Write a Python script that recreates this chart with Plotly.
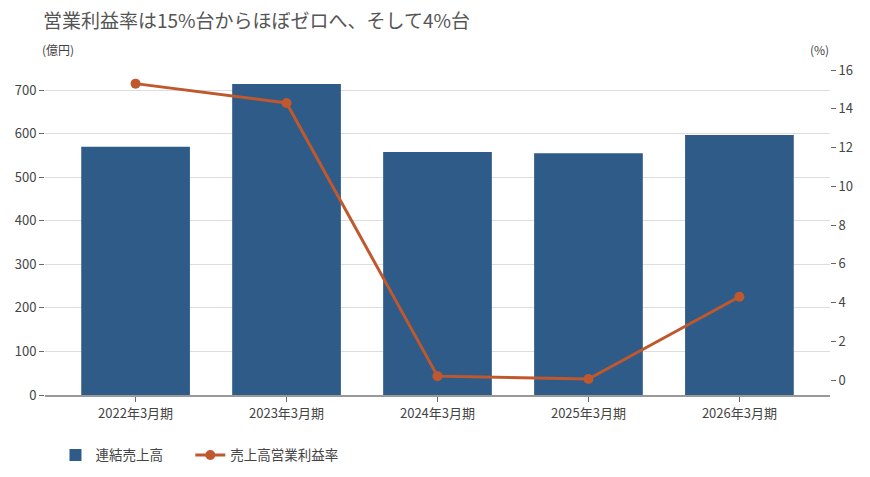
import plotly.graph_objects as go

# data
periods = ["2022年3月期", "2023年3月期", "2024年3月期", "2025年3月期", "2026年3月期"]
sales = [570, 714, 558, 555, 597]            # 連結売上高 (億円)
op_margin = [15.3, 14.3, 0.2, 0.05, 4.3]     # 売上高営業利益率 (%)

left_ticks = [0, 100, 200, 300, 400, 500, 600, 700]
right_ticks = [0, 2, 4, 6, 8, 10, 12, 14, 16]

font_jp = "Noto Sans CJK JP"
bar_color = "#2e5b88"
line_color = "#c0582e"
text_color = "#444444"

fig = go.Figure()

fig.add_trace(go.Bar(
    x=periods, y=sales, name="連結売上高",
    marker=dict(color=bar_color, line=dict(width=0)),
    width=0.72, legend="legend",
))

fig.add_trace(go.Scatter(
    x=periods, y=op_margin, name="売上高営業利益率",
    mode="lines+markers", yaxis="y2",
    line=dict(color=line_color, width=3),
    marker=dict(color=line_color, size=10),
    legend="legend2",
))

# legends placed on the container so they don't push the plot margins
legend_style = dict(orientation="h", xref="container", yref="container", y=0.03,
                    xanchor="left", yanchor="middle",
                    font=dict(size=13.5, color=text_color), bgcolor="rgba(0,0,0,0)")

# the page body keeps an 8px margin, so the figure is sized to fit inside it
fig.update_layout(
    width=854, height=461,
    margin=dict(l=37, r=32, t=52, b=74),
    paper_bgcolor="white", plot_bgcolor="white",
    font=dict(family=font_jp, size=13, color=text_color),
    title=dict(text="営業利益率は15%台からほぼゼロへ、そして4%台",
               x=0.041, xref="container", xanchor="left", y=0.97, yref="container",
               yanchor="middle", font=dict(size=19, color="#555555")),
    xaxis=dict(range=[-0.6, 4.6], showline=True, linecolor="#999999", linewidth=2,
               ticks="outside", ticklen=5, tickcolor="#666666", tickfont=dict(size=13),
               automargin=False),
    yaxis=dict(range=[0, 769], tickvals=left_ticks, showgrid=True, gridcolor="#dddddd",
               zeroline=False, ticks="outside", ticklen=5, tickcolor="#666666",
               tickfont=dict(size=13), automargin=False),
    yaxis2=dict(range=[-0.774, 16.52], tickvals=right_ticks, overlaying="y", side="right",
                showgrid=False, zeroline=False, ticks="outside", ticklen=5,
                tickcolor="#666666", tickfont=dict(size=13), automargin=False),
    legend=dict(x=0.0556, **legend_style),
    legend2=dict(x=0.2135, **legend_style),
    bargap=0.28,
    showlegend=True,
)

fig.add_annotation(text="(億円)", xref="paper", yref="paper", x=-0.006, y=1.03,
                   xanchor="left", yanchor="middle", showarrow=False,
                   font=dict(size=12, color=text_color))
fig.add_annotation(text="(%)", xref="paper", yref="paper", x=0.972, y=1.03,
                   xanchor="left", yanchor="middle", showarrow=False,
                   font=dict(size=12, color=text_color))

fig.write_html("out.html")
